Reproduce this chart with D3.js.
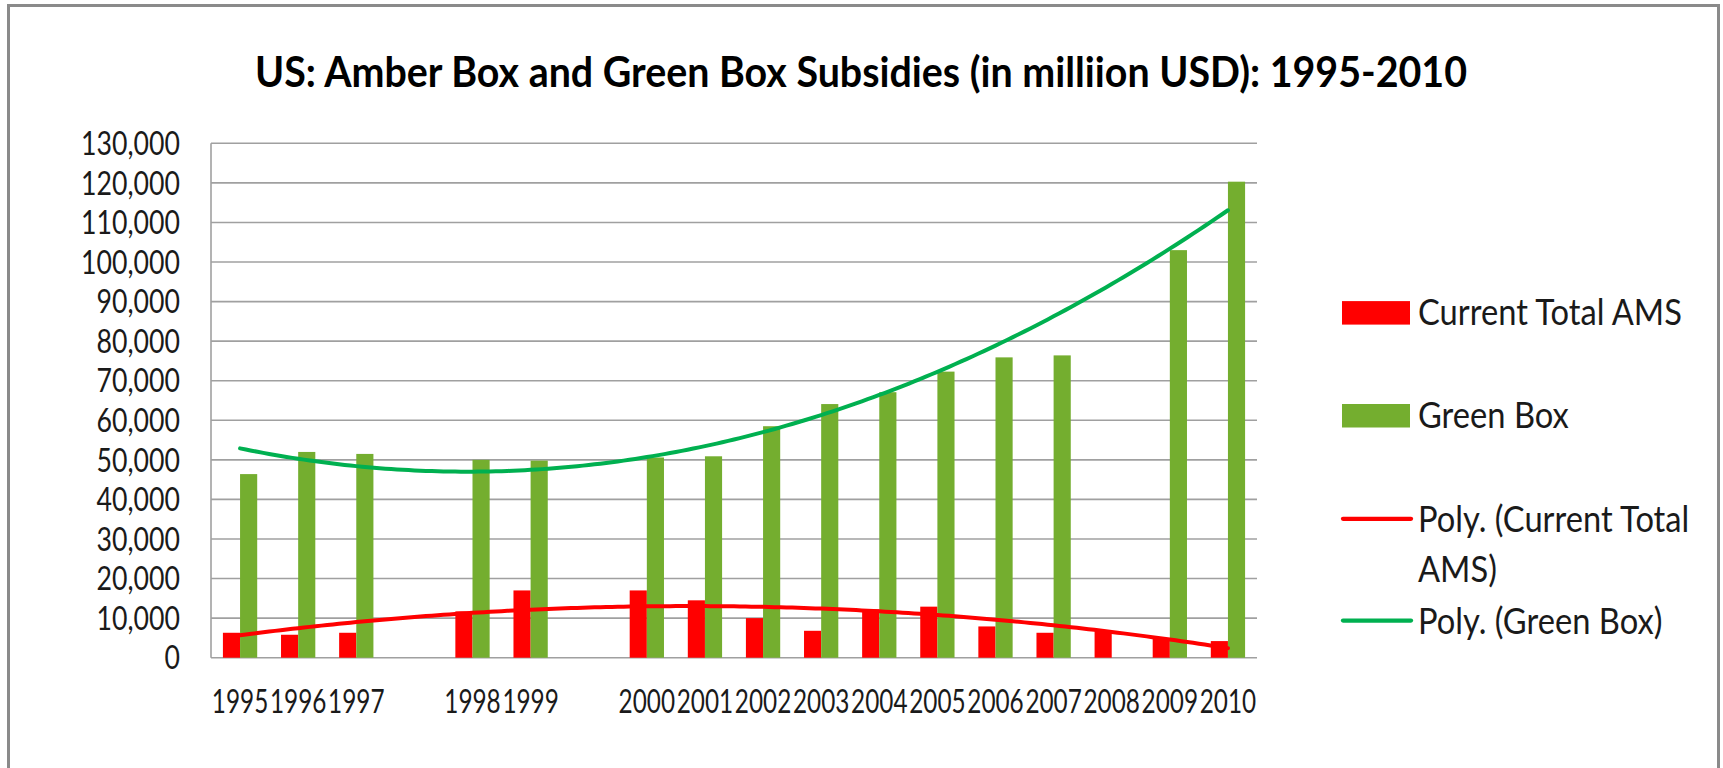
<!DOCTYPE html>
<html>
<head>
<meta charset="utf-8">
<script src="https://cdn.jsdelivr.net/npm/d3@7"></script>
<style>
  html, body { margin: 0; padding: 0; background: #ffffff; }
  svg { display: block; }
</style>
</head>
<body>
<div id="chart"></div>
<script>
// Categories (blank slots are empty categories on the axis)
const years = ["1995", "1996", "1997", "", "1998", "1999", "", "2000", "2001", "2002", "2003", "2004", "2005", "2006", "2007", "2008", "2009", "2010"];
// Current Total AMS (amber box), million USD
const amberValues = [6300, 5800, 6300, null, 11700, 17000, null, 17000, 14500, 10000, 6800, 12200, 12900, 7900, 6300, 6900, 4900, 4200];
// Green box, million USD
const greenValues = [46400, 52000, 51500, null, 50000, 49800, null, 50600, 50900, 58500, 64100, 67100, 72300, 75900, 76400, null, 103000, 120300];
const yTicks = d3.range(0, 130001, 10000);
const legendItems = [
    { type: "rect", color: "#ff0000", lines: ["Current Total AMS"] },
    { type: "rect", color: "#74ae2f", lines: ["Green Box"] },
    { type: "line", color: "#ff0000", lines: ["Poly. (Current Total", "AMS)"] },
    { type: "line", color: "#00b050", lines: ["Poly. (Green Box)"] }
];
const titleText = "US: Amber Box and Green Box Subsidies (in milliion USD): 1995-2010";

const W = 1723, H = 768;
const plot = { left: 211, right: 1257, top: 143.3, bottom: 657.7 };
const font = "Lato, 'Open Sans', sans-serif";

const svg = d3.select("#chart").append("svg")
    .attr("width", W)
    .attr("height", H)
    .style("background", "#ffffff");

// outer chart frame (bottom edge runs off the page)
svg.append("rect")
    .attr("x", 8.5).attr("y", 5.5)
    .attr("width", 1710).attr("height", 800)
    .attr("fill", "none")
    .attr("stroke", "#8a8a8a")
    .attr("stroke-width", 3);

const x = d3.scaleBand()
    .domain(d3.range(years.length))
    .range([plot.left, plot.right])
    .padding(0);
const y = d3.scaleLinear()
    .domain([0, 130000])
    .range([plot.bottom, plot.top]);
const barW = x.bandwidth() * 0.295;

// squeeze text horizontally so it fits a target width (Calibri is narrower)
function squeeze(sel, sample, target) {
    const probe = svg.append("text").attr("font-family", font)
        .attr("font-size", sel.attr("font-size"))
        .attr("font-weight", sel.attr("font-weight") || "normal")
        .text(sample);
    const w = probe.node().getComputedTextLength();
    probe.remove();
    return target / w;
}

// gridlines
svg.append("g").selectAll("line")
    .data(yTicks)
    .join("line")
    .attr("x1", plot.left).attr("x2", plot.right)
    .attr("y1", d => y(d)).attr("y2", d => y(d))
    .attr("stroke", "#a0a0a0")
    .attr("stroke-width", 1.6);

// left axis line
svg.append("line")
    .attr("x1", plot.left).attr("x2", plot.left)
    .attr("y1", plot.top).attr("y2", plot.bottom)
    .attr("stroke", "#a0a0a0")
    .attr("stroke-width", 1.6);

// y tick labels
const yLab = svg.append("g").attr("font-family", font).attr("font-size", 32.5).attr("fill", "#1a1a1a");
const fmt = d3.format(",");
const ySq = squeeze(yLab, "130,000", 99);
yLab.selectAll("text")
    .data(yTicks)
    .join("text")
    .attr("transform", d => `translate(180,${y(d)}) scale(${ySq},1)`)
    .attr("text-anchor", "end")
    .attr("dy", "0.36em")
    .text(d => fmt(d));

// bars
const bars = svg.append("g");
bars.selectAll("rect.amber")
    .data(amberValues.map((v, i) => ({ v, i })).filter(d => d.v != null))
    .join("rect")
    .attr("class", "amber")
    .attr("x", d => x(d.i) + x.bandwidth() / 2 - barW)
    .attr("y", d => y(d.v))
    .attr("width", barW)
    .attr("height", d => y(0) - y(d.v))
    .attr("fill", "#ff0000");
bars.selectAll("rect.green")
    .data(greenValues.map((v, i) => ({ v, i })).filter(d => d.v != null))
    .join("rect")
    .attr("class", "green")
    .attr("x", d => x(d.i) + x.bandwidth() / 2)
    .attr("y", d => y(d.v))
    .attr("width", barW)
    .attr("height", d => y(0) - y(d.v))
    .attr("fill", "#74ae2f");

// x tick labels
const xLab = svg.append("g").attr("font-family", font).attr("font-size", 32).attr("fill", "#1a1a1a");
const xSq = squeeze(xLab, "1995", 56.5);
xLab.selectAll("text")
    .data(years.map((t, i) => ({ t, i })).filter(d => d.t !== ""))
    .join("text")
    .attr("transform", d => `translate(${x(d.i) + x.bandwidth() / 2},713) scale(${xSq},1)`)
    .attr("text-anchor", "middle")
    .text(d => d.t);

// second-order polynomial trendline (least squares on category position)
function polyFit2(values) {
    const pts = values.map((v, i) => [i + 1, v]).filter(p => p[1] != null);
    let s = [0, 0, 0, 0, 0], t = [0, 0, 0];
    pts.forEach(([px, py]) => {
        for (let k = 0; k < 5; k++) s[k] += Math.pow(px, k);
        for (let k = 0; k < 3; k++) t[k] += py * Math.pow(px, k);
    });
    // solve [[s0,s1,s2],[s1,s2,s3],[s2,s3,s4]] * [c0,c1,c2] = t
    const A = [[s[0], s[1], s[2], t[0]], [s[1], s[2], s[3], t[1]], [s[2], s[3], s[4], t[2]]];
    for (let c = 0; c < 3; c++) {
        for (let r = c + 1; r < 3; r++) {
            const f = A[r][c] / A[c][c];
            for (let k = c; k < 4; k++) A[r][k] -= f * A[c][k];
        }
    }
    const coef = [0, 0, 0];
    for (let r = 2; r >= 0; r--) {
        let sum = A[r][3];
        for (let k = r + 1; k < 3; k++) sum -= A[r][k] * coef[k];
        coef[r] = sum / A[r][r];
    }
    return px => coef[0] + coef[1] * px + coef[2] * px * px;
}

const xi = d3.scaleLinear()
    .domain([1, years.length])
    .range([x(0) + x.bandwidth() / 2, x(years.length - 1) + x.bandwidth() / 2]);
const trendLine = d3.line().x(d => xi(d[0])).y(d => y(d[1]));

[[amberValues, "#ff0000"], [greenValues, "#00b050"]].forEach(([vals, col]) => {
    const f = polyFit2(vals);
    const pts = d3.range(1, years.length + 0.001, 0.1).map(px => [px, f(px)]);
    svg.append("path")
        .attr("d", trendLine(pts))
        .attr("fill", "none")
        .attr("stroke", col)
        .attr("stroke-width", 4)
        .attr("stroke-linecap", "round");
});

// title
svg.append("text")
    .attr("x", 861).attr("y", 86.7)
    .attr("text-anchor", "middle")
    .attr("font-family", font)
    .attr("font-weight", "bold")
    .attr("font-size", 42)
    .attr("fill", "#000")
    .attr("textLength", 1212)
    .attr("lengthAdjust", "spacingAndGlyphs")
    .text(titleText);

// legend
const legend = svg.append("g").attr("font-family", font).attr("font-size", 36).attr("fill", "#1a1a1a");
const lgSq = squeeze(legend, "Current Total AMS", 264);
const legendRows = [324.6, 427.5, 531.8, 633.6];
legendItems.forEach((it, k) => {
    const base = legendRows[k];
    if (it.type === "rect") {
        legend.append("rect")
            .attr("x", 1342).attr("y", base - 23.5)
            .attr("width", 68).attr("height", 23.5)
            .attr("fill", it.color);
    } else {
        legend.append("line")
            .attr("x1", 1343).attr("x2", 1411)
            .attr("y1", base - 13).attr("y2", base - 13)
            .attr("stroke", it.color)
            .attr("stroke-width", 4.3)
            .attr("stroke-linecap", "round");
    }
    it.lines.forEach((ln, j) => {
        legend.append("text")
            .attr("transform", `translate(1418,${base + j * 50}) scale(${lgSq},1)`)
            .text(ln);
    });
});
</script>
</body>
</html>
